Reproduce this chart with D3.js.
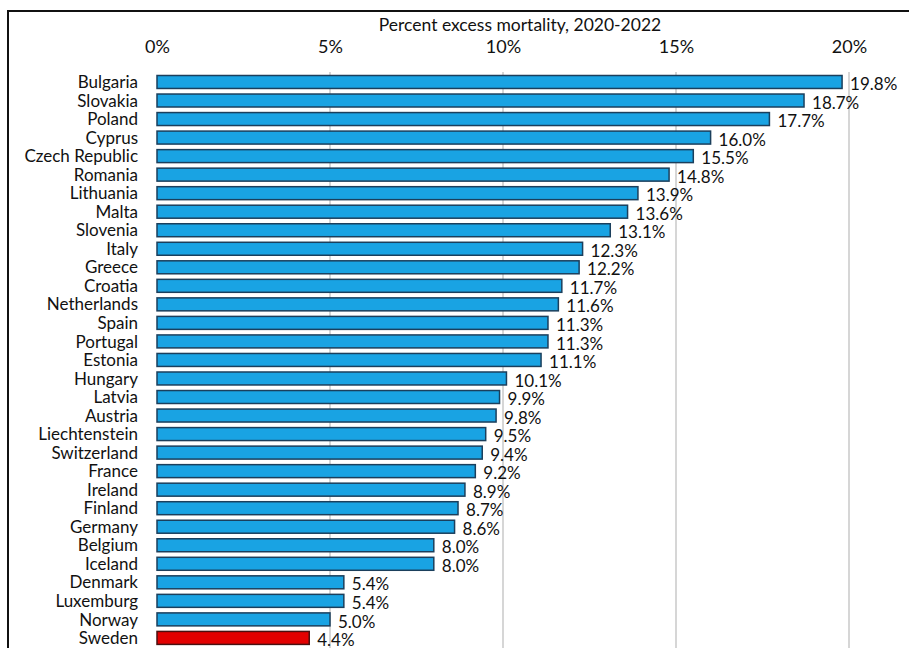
<!DOCTYPE html>
<html>
<head>
<meta charset="utf-8">
<script src="https://cdn.jsdelivr.net/npm/d3@7"></script>
<style>
  body { margin: 0; background: #fff; }
  svg { display: block; }
</style>
</head>
<body>
<div id="chart"></div>
<script>
const countries = ['Bulgaria','Slovakia','Poland','Cyprus','Czech Republic','Romania','Lithuania','Malta',
  'Slovenia','Italy','Greece','Croatia','Netherlands','Spain','Portugal','Estonia','Hungary','Latvia',
  'Austria','Liechtenstein','Switzerland','France','Ireland','Finland','Germany','Belgium','Iceland',
  'Denmark','Luxemburg','Norway','Sweden'];
const excess = [19.8,18.7,17.7,16.0,15.5,14.8,13.9,13.6,13.1,12.3,12.2,11.7,11.6,11.3,11.3,11.1,10.1,9.9,
  9.8,9.5,9.4,9.2,8.9,8.7,8.6,8.0,8.0,5.4,5.4,5.0,4.4];
const ticks = [0, 5, 10, 15, 20];
const highlight = 'Sweden';

const width = 909, height = 648;
const font = 'Lato, "Open Sans", sans-serif';

const svg = d3.select('#chart').append('svg')
  .attr('width', width).attr('height', height);

// frame (left + top edge of the cropped picture)
svg.append('path')
  .attr('d', `M8,${height} V11 H${width}`)
  .attr('fill', 'none').attr('stroke', '#111').attr('stroke-width', 2);

const x = d3.scaleLinear().domain([0, 20]).range([157, 849]);
const y = d3.scaleBand().domain(countries).range([75.5, 644.4]).paddingInner(0.3).paddingOuter(0);

/* Grid */
svg.selectAll('.grid')
  .data(ticks.filter(d => d > 0)).join('line')
  .attr('x1', d => x(d)).attr('x2', d => x(d))
  .attr('y1', 72).attr('y2', height)
  .attr('stroke', '#c8c8c8').attr('stroke-width', 1.5);

/* Title */
svg.append('text')
  .attr('x', 520).attr('y', 31)
  .attr('text-anchor', 'middle')
  .attr('font-family', font).attr('font-size', '17.5px').attr('fill', '#111')
  .text('Percent excess mortality, 2020-2022');

/* Top axis */
svg.append('g')
  .attr('transform', 'translate(0,53)')
  .call(d3.axisTop(x).tickValues(ticks).tickSize(0).tickPadding(0).tickFormat(d => d + '%'))
  .call(ax => ax.select('.domain').remove())
  .selectAll('text')
    .style('font-family', font).style('font-size', '18px').style('fill', '#111');

/* Bars */
svg.selectAll('rect.bar')
  .data(countries).join('rect')
  .attr('class', 'bar')
  .attr('x', x(0))
  .attr('y', d => y(d))
  .attr('width', (d, i) => x(excess[i]) - x(0))
  .attr('height', y.bandwidth())
  .attr('fill', d => d === highlight ? '#e30000' : '#19a3e3')
  .attr('stroke', d => d === highlight ? '#4a1010' : '#1b3f5c')
  .attr('stroke-width', 1.5);

/* Country labels */
svg.selectAll('text.cat')
  .data(countries).join('text')
  .attr('class', 'cat')
  .attr('x', 138)
  .attr('y', d => y(d) + y.bandwidth() / 2)
  .attr('dy', '0.36em')
  .attr('text-anchor', 'end')
  .attr('font-family', font).attr('font-size', '17px').attr('fill', '#111')
  .text(d => d);

/* Value labels */
svg.selectAll('text.val')
  .data(countries).join('text')
  .attr('class', 'val')
  .attr('x', (d, i) => x(excess[i]) + 8)
  .attr('y', d => y(d) + y.bandwidth() / 2 + 2)
  .attr('dy', '0.36em')
  .attr('font-family', font).attr('font-size', '17px').attr('fill', '#111')
  .text((d, i) => excess[i].toFixed(1) + '%');
</script>
</body>
</html>
